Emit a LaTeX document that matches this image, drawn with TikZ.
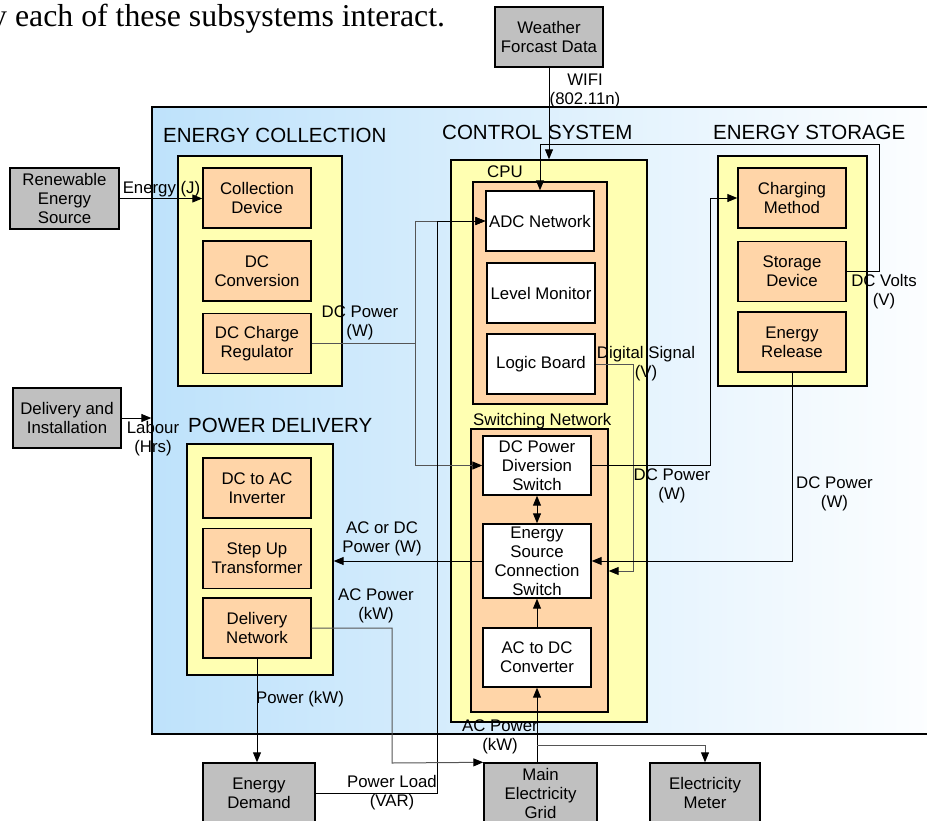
\documentclass[tikz,border=0pt]{standalone}
\usepackage{fontspec}
\setmainfont{Liberation Sans}
\newfontfamily\serifface{Liberation Serif}
\usetikzlibrary{arrows.meta}
\definecolor{boxgray}{RGB}{192,192,192}
\definecolor{ylw}{RGB}{255,255,178}
\definecolor{peach}{RGB}{255,213,168}
\definecolor{skyblue}{RGB}{190,226,251}
\definecolor{wire}{RGB}{85,85,85}
\begin{document}
\begin{tikzpicture}[x=1pt,y=-1pt,
  txt/.style={font=\fontsize{16.8}{19}\selectfont},
  base/.style={txt, draw=black, line width=1.4pt, align=center, inner sep=0pt},
  ext/.style={base, fill=boxgray, minimum width=108pt, minimum height=60pt},
  comp/.style={base, fill=peach, minimum width=108pt, minimum height=60pt},
  wbox/.style={base, fill=white, minimum width=108pt, minimum height=60pt},
  zone/.style={draw=black, line width=1.4pt, inner sep=0pt},
  lbl/.style={txt, align=center, inner sep=0pt},
  head/.style={inner sep=0pt, anchor=west, font=\fontsize{20.5}{24}\selectfont},
  tip/.style={-{Triangle[length=10pt,width=8pt,color=black]}},
  conn/.style={line width=1pt, draw=black},
  gconn/.style={line width=1pt, draw=wire},
]
\clip (0,0) rectangle (927,820);

% caption
\node[anchor=base west, inner sep=0pt, font=\serifface\fontsize{31.8}{36}\selectfont] (caption) at (-9,26) {y each of these subsystems interact.};

% system region
\node[zone, line width=1.3pt, left color=skyblue, right color=white, minimum width=813pt, minimum height=627pt] (sys) at (558.5,420.5) {};

% zones
\node[zone, fill=ylw, minimum width=164pt, minimum height=230pt] (ycoll) at (260,271) {};
\node[zone, fill=ylw, minimum width=146pt, minimum height=231pt] (ypow) at (260,559.5) {};
\node[zone, fill=ylw, minimum width=196pt, minimum height=562pt] (yctrl) at (549,441) {};
\node[zone, fill=ylw, minimum width=149pt, minimum height=230pt] (ystor) at (792.5,271) {};
\node[zone, fill=peach, minimum width=134pt, minimum height=222pt] (cpu) at (540,293) {};
\node[zone, fill=peach, minimum width=137pt, minimum height=283pt] (sw) at (539.5,570.5) {};

% headings
\node[head] (hcoll) at (163,135.5) {ENERGY COLLECTION};
\node[head] (hctrl) at (442,132.5) {CONTROL SYSTEM};
\node[head] (hstor) at (713,132.5) {ENERGY STORAGE};
\node[head] (hpow) at (188,425.5) {POWER DELIVERY};
\node[txt, inner sep=0pt, anchor=base west] (hcpu) at (487,177) {CPU};
\node[txt, inner sep=0pt, anchor=base west] (hsw) at (473,425) {Switching Network};

% external boxes
\node[ext] (weather) at (549,37) {Weather\\Forcast Data};
\node[ext, minimum width=109pt, minimum height=61pt] (renew) at (64.5,198.5) {Renewable\\Energy\\Source};
\node[ext] (deliv) at (67,418) {Delivery and\\Installation};
\node[ext, minimum width=112pt] (demand) at (259,793) {Energy\\Demand};
\node[ext, minimum width=113pt] (grid) at (540.5,793) {Main\\Electricity\\Grid};
\node[ext, minimum width=110pt] (meter) at (705,793) {Electricity\\Meter};

% energy collection
\node[comp] (coll) at (257,198) {Collection\\Device};
\node[comp] (dcconv) at (257,271) {DC\\Conversion};
\node[comp] (dcreg) at (257,343.5) {DC Charge\\Regulator};

% power delivery
\node[comp] (inv) at (257,488) {DC to AC\\Inverter};
\node[comp] (stepup) at (257,558.5) {Step Up\\Transformer};
\node[comp] (delnet) at (257,628) {Delivery\\Network};

% energy storage
\node[comp] (charge) at (792,198) {Charging\\Method};
\node[comp] (storage) at (792,271.5) {Storage\\Device};
\node[comp] (release) at (792,342) {Energy\\Release};

% control system
\node[wbox] (adc) at (540,221) {ADC Network};
\node[wbox] (level) at (541,293) {Level Monitor};
\node[wbox] (logic) at (541,364) {Logic Board};
\node[wbox, minimum height=59pt] (divert) at (537,465.5) {DC Power\\Diversion\\Switch};
\node[wbox, minimum height=74pt] (esc) at (537,561) {Energy\\Source\\Connection\\Switch};
\node[wbox, minimum height=59pt] (acdc) at (537,657.5) {AC to DC\\Converter};

% helper coordinates
\coordinate (dvR) at (879,144);
\coordinate (dvL) at (540,144);
\coordinate (busA) at (415,221);
\coordinate (busC) at (437,221);
\coordinate (dsig) at (633,571);
\coordinate (dpc) at (710,198);
\coordinate (acp) at (392,763);
\coordinate (gridup) at (537,763);
\coordinate (mbr) at (537,745);

% connectors
\draw[conn, tip] (weather.south) -- (weather.south |- yctrl.north);
\draw[conn, tip] (storage.east) -| (dvR) -- (dvL) -- (adc.north);
\draw[conn, tip] (renew.east) -- (renew.east -| coll.west);
\draw[gconn] (dcreg.east) -- (dcreg.east -| busA);
\draw[gconn, tip] (dcreg.east -| busA) |- (adc.west);
\draw[gconn, tip] (dcreg.east -| busA) |- (divert.west);
\draw[conn, tip] (demand.east) -| (busC) -- (adc.west);
\draw[gconn, tip] (logic.east) -| (dsig) -- (dsig -| sw.east);
\draw[conn, tip] (divert.east) -| (dpc) -- (charge.west);
\draw[conn, tip] (release.south) |- (esc.east);
\draw[conn, {Triangle[length=10pt,width=8pt]}-{Triangle[length=10pt,width=8pt]}] (divert.south) -- (esc.north);
\draw[conn, tip] (acdc.north) -- (esc.south);
\draw[conn, tip] (gridup) -- (acdc.south);
\draw[gconn, tip] (mbr) -| (meter.north);
\draw[conn, tip] (esc.west) -- (esc.west -| ypow.east);
\draw[gconn, tip] (delnet.east) -| (acp) -- (grid.north west);
\draw[conn, tip] (delnet.south) -- (delnet.south |- demand.north);
\draw[conn, tip] (deliv.east) -- (deliv.east -| sys.west);

% connector labels
\node[lbl] (lwifi) at (585,90.5) {WIFI\\(802.11n)};
\node[lbl] (ldcv) at (884,292) {DC Volts\\(V)};
\node[lbl] (lenergy) at (161.5,189) {Energy (J)};
\node[lbl] (ldcp1) at (360,322.5) {DC Power\\(W)};
\node[lbl] (ldig) at (646,364) {Digital Signal\\(V)};
\node[lbl] (ldcp2) at (672,485.5) {DC Power\\(W)};
\node[lbl] (ldcp3) at (834.5,494) {DC Power\\(W)};
\node[lbl] (lacdc) at (382,538.5) {AC or DC\\Power (W)};
\node[lbl] (lacp1) at (376,605.5) {AC Power\\(kW)};
\node[lbl] (lpow) at (300,699) {Power (kW)};
\node[lbl] (llab) at (153,438.5) {Labour\\(Hrs)};
\node[lbl] (lacp2) at (500,737) {AC Power\\(kW)};
\node[lbl] (lload) at (392,793) {Power Load\\(VAR)};
\end{tikzpicture}
\end{document}
